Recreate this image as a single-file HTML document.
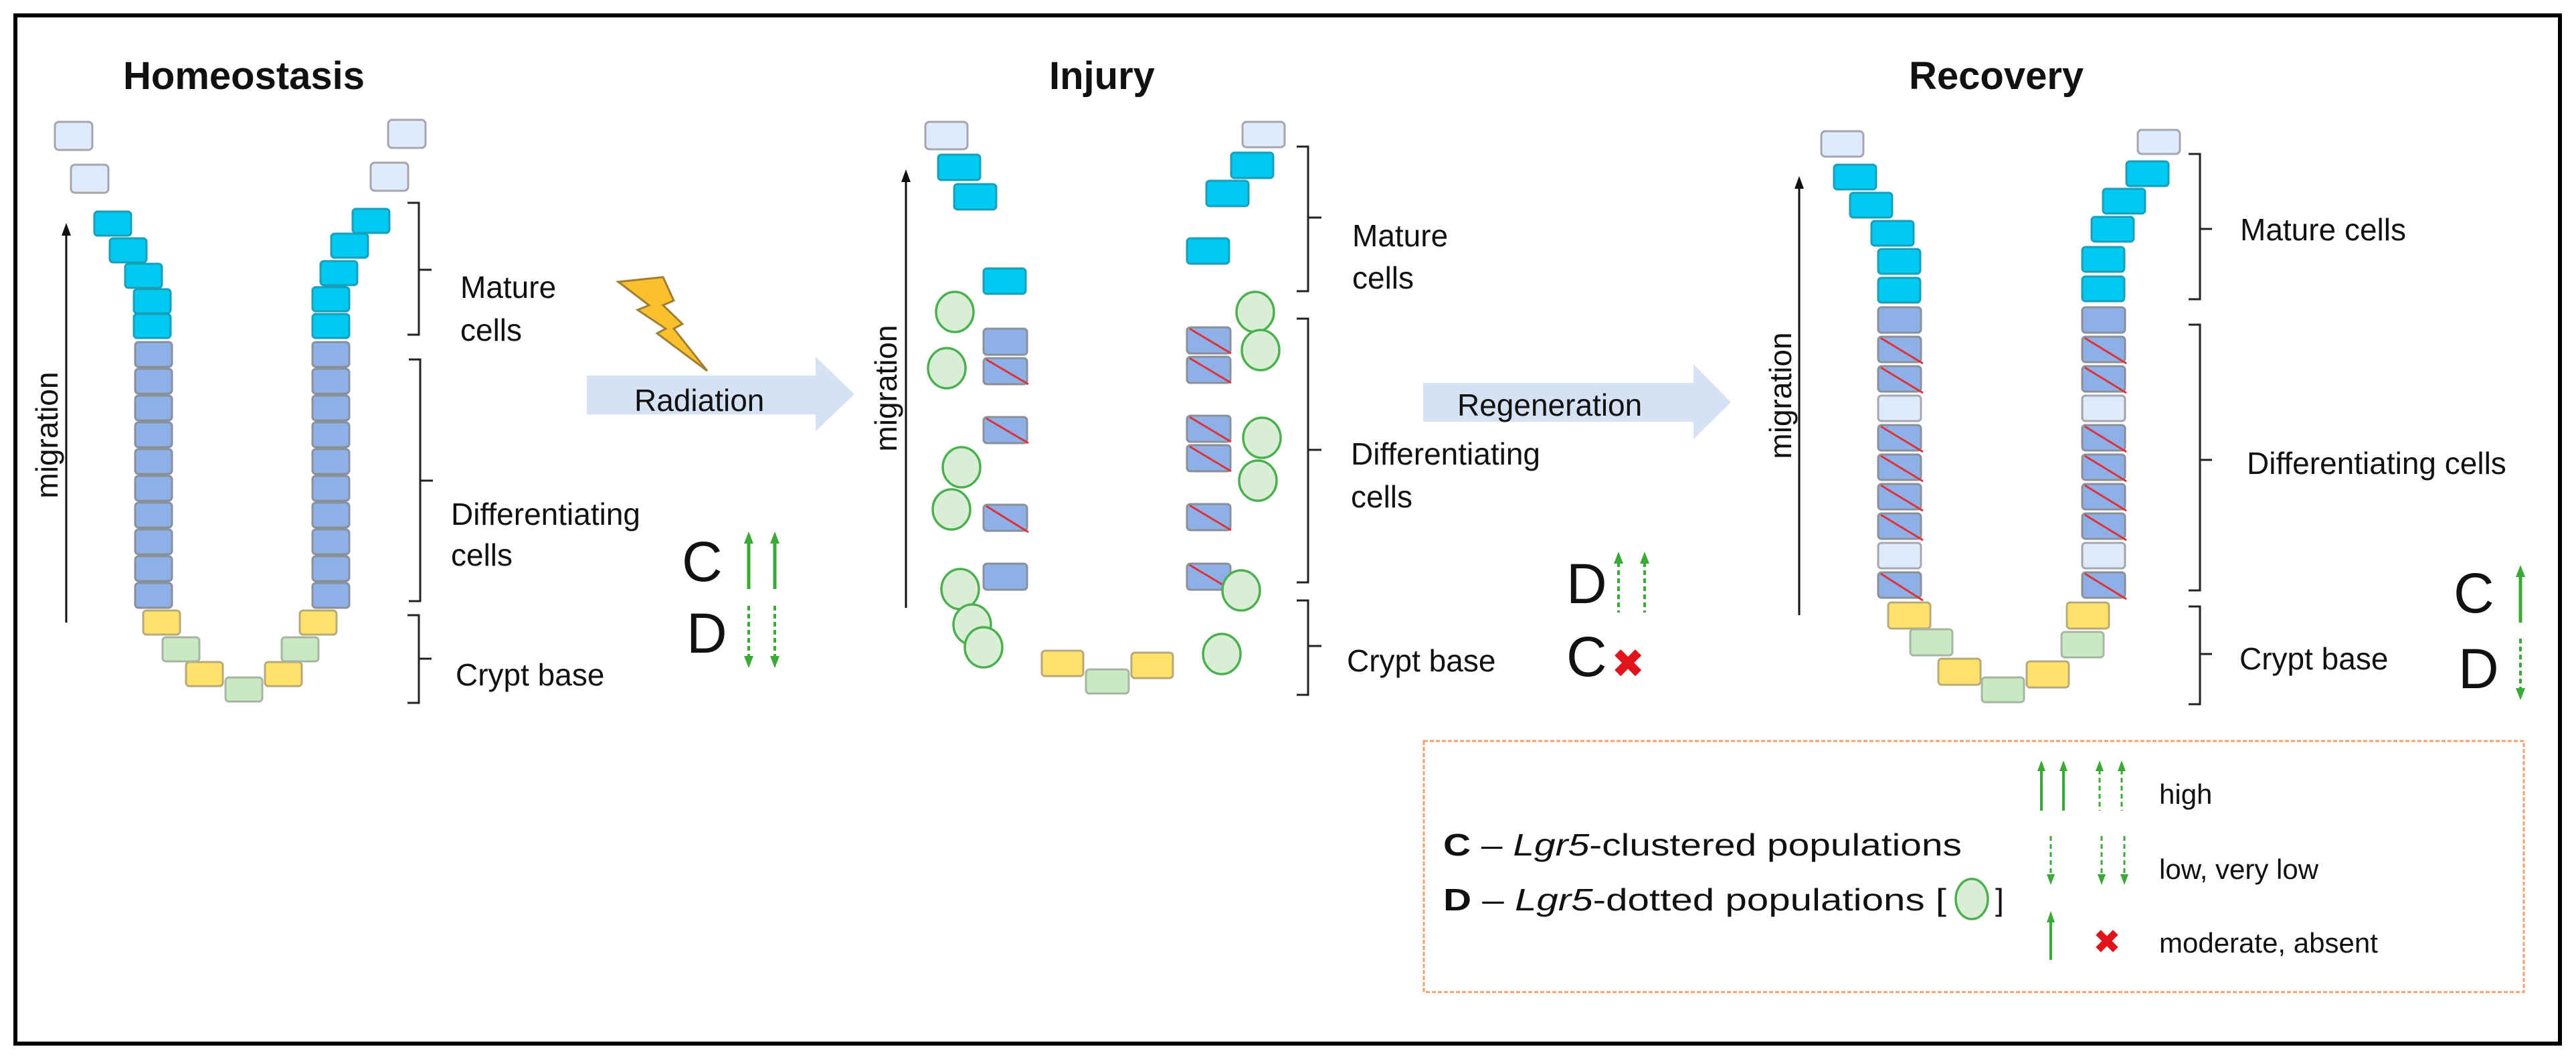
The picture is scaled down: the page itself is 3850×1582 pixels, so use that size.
<!DOCTYPE html>
<html><head><meta charset="utf-8"><style>
html,body{margin:0;padding:0;background:#fff;}
svg{display:block;}
text{font-family:"Liberation Sans",Arial,sans-serif;fill:#111;}
.t{font-weight:bold;font-size:58px;}
.l{font-size:46px;}
.cd{font-size:84px;}
.lt{fill:#dfeafa;stroke:#a3a7ad;stroke-width:3;}
.cy{fill:#00c9f2;stroke:#1b9fb8;stroke-width:3;}
.bl{fill:#8db0e6;stroke:#8a9099;stroke-width:3;}
.ye{fill:#ffe26b;stroke:#b8aa78;stroke-width:3;}
.gr{fill:#c9e9c3;stroke:#a7b5a4;stroke-width:3;}
.sl{stroke:#e0303a;stroke-width:3;}
.ci{fill:#d9efd5;stroke:#4caf50;stroke-width:3.5;}
.br{fill:none;stroke:#222;stroke-width:3;}
.ga{stroke:#3aa935;stroke-width:5;fill:none;}
.gd{stroke:#3aa935;stroke-width:4;fill:none;stroke-dasharray:7 5;}
.gh{fill:#3aa935;}
</style></head><body>
<svg width="3850" height="1582" viewBox="0 0 3850 1582" xmlns="http://www.w3.org/2000/svg">
<rect x="0" y="0" width="3850" height="1582" fill="#fff"/>
<rect x="23" y="23" width="3803" height="1536" fill="none" stroke="#000" stroke-width="6"/>

<!-- ===== HOMEOSTASIS ===== -->
<text class="t" x="184" y="133">Homeostasis</text>
<rect class="lt" x="82" y="182" width="56" height="42" rx="6"/>
<rect class="lt" x="106" y="246" width="56" height="42" rx="6"/>
<rect class="lt" x="580" y="179" width="56" height="42" rx="6"/>
<rect class="lt" x="554" y="243" width="56" height="42" rx="6"/>
<g class="cy">
<rect x="141" y="316" width="55" height="36" rx="5"/><rect x="164" y="356" width="55" height="36" rx="5"/>
<rect x="187" y="394" width="55" height="36" rx="5"/><rect x="200" y="432" width="55" height="36" rx="5"/>
<rect x="200" y="469" width="55" height="36" rx="5"/>
<rect x="527" y="312" width="55" height="36" rx="5"/><rect x="495" y="349" width="55" height="36" rx="5"/>
<rect x="479" y="390" width="55" height="36" rx="5"/><rect x="467" y="429" width="55" height="36" rx="5"/>
<rect x="467" y="469" width="55" height="36" rx="5"/>
</g>
<g class="bl">
<rect x="202" y="511" width="55" height="37" rx="5"/><rect x="202" y="551" width="55" height="37" rx="5"/>
<rect x="202" y="591" width="55" height="37" rx="5"/><rect x="202" y="631" width="55" height="37" rx="5"/>
<rect x="202" y="671" width="55" height="37" rx="5"/><rect x="202" y="711" width="55" height="37" rx="5"/>
<rect x="202" y="751" width="55" height="37" rx="5"/><rect x="202" y="791" width="55" height="37" rx="5"/>
<rect x="202" y="831" width="55" height="37" rx="5"/><rect x="202" y="871" width="55" height="37" rx="5"/>
<rect x="467" y="511" width="55" height="37" rx="5"/><rect x="467" y="551" width="55" height="37" rx="5"/>
<rect x="467" y="591" width="55" height="37" rx="5"/><rect x="467" y="631" width="55" height="37" rx="5"/>
<rect x="467" y="671" width="55" height="37" rx="5"/><rect x="467" y="711" width="55" height="37" rx="5"/>
<rect x="467" y="751" width="55" height="37" rx="5"/><rect x="467" y="791" width="55" height="37" rx="5"/>
<rect x="467" y="831" width="55" height="37" rx="5"/><rect x="467" y="871" width="55" height="37" rx="5"/>
</g>
<g class="ye">
<rect x="214" y="912" width="55" height="36" rx="5"/><rect x="278" y="989" width="55" height="36" rx="5"/>
<rect x="396" y="989" width="55" height="36" rx="5"/><rect x="448" y="912" width="55" height="36" rx="5"/>
</g>
<g class="gr">
<rect x="243" y="952" width="55" height="36" rx="5"/><rect x="337" y="1012" width="55" height="36" rx="5"/>
<rect x="421" y="952" width="55" height="36" rx="5"/>
</g>
<line x1="99" y1="930" x2="99" y2="350" stroke="#111" stroke-width="3"/>
<polygon points="92,352 99,333 106,352" fill="#111"/>
<text class="l" x="0" y="0" text-anchor="middle" transform="translate(86,650) rotate(-90)">migration</text>
<path class="br" d="M609,303 H626 V500 H609 M626,403 H645"/>
<path class="br" d="M611,537 H628 V898 H611 M628,718 H647"/>
<path class="br" d="M609,919 H626 V1050 H609 M626,984 H645"/>
<text class="l" x="688" y="445">Mature</text>
<text class="l" x="688" y="509">cells</text>
<text class="l" x="674" y="784">Differentiating</text>
<text class="l" x="674" y="845">cells</text>
<text class="l" x="681" y="1024">Crypt base</text>
<text class="cd" x="1019" y="868">C</text>
<text class="cd" x="1026" y="975">D</text>
<line class="ga" x1="1119" y1="810" x2="1119" y2="880"/><polygon class="gh" points="1112,812 1119,794 1126,812"/>
<line class="ga" x1="1158" y1="810" x2="1158" y2="880"/><polygon class="gh" points="1151,812 1158,794 1165,812"/>
<line class="gd" x1="1119" y1="905" x2="1119" y2="982"/><polygon class="gh" points="1112,980 1119,998 1126,980"/>
<line class="gd" x1="1158" y1="905" x2="1158" y2="982"/><polygon class="gh" points="1151,980 1158,998 1165,980"/>
<polygon points="924,421 991,414 1007,449 991,456 1020,484 1007,491 1057,554 982,498 995,491 953,463 970,456" fill="#fbc02d" stroke="#a07f30" stroke-width="3"/>
<polygon points="877,561 1219,561 1219,533 1277,589 1219,644 1219,619 877,619" fill="#d5e2f3"/>
<text class="l" x="948" y="614">Radiation</text>

<!-- ===== INJURY ===== -->
<text class="t" x="1568" y="133">Injury</text>
<rect class="lt" x="1383" y="182" width="63" height="41" rx="6"/>
<rect class="lt" x="1857" y="182" width="63" height="38" rx="6"/>
<g class="cy">
<rect x="1402" y="231" width="63" height="38" rx="5"/><rect x="1426" y="275" width="63" height="38" rx="5"/>
<rect x="1470" y="401" width="63" height="38" rx="5"/>
<rect x="1840" y="228" width="63" height="38" rx="5"/><rect x="1803" y="270" width="63" height="38" rx="5"/>
<rect x="1774" y="356" width="63" height="38" rx="5"/>
</g>
<g class="bl">
<rect x="1470" y="491" width="65" height="39" rx="5"/><rect x="1470" y="535" width="65" height="39" rx="5"/>
<rect x="1470" y="623" width="65" height="39" rx="5"/><rect x="1470" y="754" width="65" height="39" rx="5"/>
<rect x="1470" y="842" width="65" height="39" rx="5"/>
<rect x="1774" y="489" width="65" height="39" rx="5"/><rect x="1774" y="533" width="65" height="39" rx="5"/>
<rect x="1774" y="621" width="65" height="39" rx="5"/><rect x="1774" y="665" width="65" height="39" rx="5"/>
<rect x="1774" y="753" width="65" height="39" rx="5"/><rect x="1774" y="842" width="65" height="39" rx="5"/>
</g>
<g class="sl">
<line x1="1474" y1="537" x2="1537" y2="574"/><line x1="1474" y1="625" x2="1537" y2="662"/>
<line x1="1474" y1="756" x2="1537" y2="795"/>
<line x1="1778" y1="491" x2="1840" y2="528"/><line x1="1778" y1="535" x2="1840" y2="572"/>
<line x1="1778" y1="623" x2="1840" y2="660"/><line x1="1778" y1="667" x2="1840" y2="704"/>
<line x1="1778" y1="755" x2="1840" y2="792"/><line x1="1778" y1="844" x2="1840" y2="881"/>
</g>
<g class="ci">
<ellipse cx="1427" cy="466" rx="28" ry="30"/><ellipse cx="1415" cy="550" rx="28" ry="30"/>
<ellipse cx="1437" cy="698" rx="28" ry="30"/><ellipse cx="1422" cy="761" rx="28" ry="30"/>
<ellipse cx="1435" cy="880" rx="28" ry="30"/><ellipse cx="1453" cy="933" rx="28" ry="30"/>
<ellipse cx="1470" cy="967" rx="28" ry="30"/>
<ellipse cx="1876" cy="466" rx="28" ry="30"/><ellipse cx="1884" cy="523" rx="28" ry="30"/>
<ellipse cx="1886" cy="654" rx="28" ry="30"/><ellipse cx="1880" cy="718" rx="28" ry="30"/>
<ellipse cx="1855" cy="882" rx="28" ry="30"/><ellipse cx="1826" cy="977" rx="28" ry="30"/>
</g>
<rect class="ye" x="1557" y="972" width="62" height="38" rx="5"/>
<rect class="ye" x="1691" y="975" width="62" height="38" rx="5"/>
<rect class="gr" x="1623" y="1000" width="64" height="36" rx="5"/>
<line x1="1354" y1="908" x2="1354" y2="270" stroke="#111" stroke-width="3"/>
<polygon points="1347,272 1354,253 1361,272" fill="#111"/>
<text class="l" x="0" y="0" text-anchor="middle" transform="translate(1340,580) rotate(-90)">migration</text>
<path class="br" d="M1938,219 H1955 V435 H1938 M1955,325 H1975"/>
<path class="br" d="M1938,476 H1955 V870 H1938 M1955,672 H1975"/>
<path class="br" d="M1938,897 H1955 V1038 H1938 M1955,965 H1975"/>
<text class="l" x="2021" y="368">Mature</text>
<text class="l" x="2021" y="431">cells</text>
<text class="l" x="2019" y="694">Differentiating</text>
<text class="l" x="2019" y="758">cells</text>
<text class="l" x="2013" y="1003">Crypt base</text>
<text class="cd" x="2341" y="901">D</text>
<text class="cd" x="2341" y="1010">C</text>
<line class="gd" x1="2419" y1="840" x2="2419" y2="915"/><polygon class="gh" points="2412,842 2419,824 2426,842"/>
<line class="gd" x1="2458" y1="840" x2="2458" y2="915"/><polygon class="gh" points="2451,842 2458,824 2465,842"/>
<text x="2408" y="1012" style="font-family:'DejaVu Sans',sans-serif;font-size:60px;fill:#e3131b;font-weight:bold">✖</text>
<polygon points="2127,572 2531,572 2531,544 2587,601 2531,656 2531,630 2127,630" fill="#d5e2f3"/>
<text class="l" x="2178" y="621">Regeneration</text>

<!-- ===== RECOVERY ===== -->
<text class="t" x="2853" y="133">Recovery</text>
<rect class="lt" x="2722" y="196" width="63" height="38" rx="6"/>
<rect class="lt" x="3195" y="194" width="63" height="36" rx="6"/>
<g class="cy">
<rect x="2741" y="246" width="63" height="37" rx="5"/><rect x="2765" y="288" width="63" height="37" rx="5"/>
<rect x="2797" y="330" width="63" height="37" rx="5"/><rect x="2807" y="372" width="63" height="37" rx="5"/>
<rect x="2807" y="415" width="63" height="37" rx="5"/>
<rect x="3178" y="241" width="63" height="37" rx="5"/><rect x="3143" y="282" width="63" height="37" rx="5"/>
<rect x="3126" y="324" width="63" height="37" rx="5"/><rect x="3112" y="369" width="63" height="37" rx="5"/>
<rect x="3112" y="413" width="63" height="37" rx="5"/>
</g>
<g class="bl">
<rect x="2807" y="459" width="64" height="38" rx="5"/><rect x="2807" y="503" width="64" height="38" rx="5"/>
<rect x="2807" y="547" width="64" height="38" rx="5"/>
<rect x="2807" y="635" width="64" height="38" rx="5"/><rect x="2807" y="679" width="64" height="38" rx="5"/>
<rect x="2807" y="723" width="64" height="38" rx="5"/><rect x="2807" y="767" width="64" height="38" rx="5"/>
<rect x="2807" y="855" width="64" height="38" rx="5"/>
<rect x="3112" y="459" width="64" height="38" rx="5"/><rect x="3112" y="503" width="64" height="38" rx="5"/>
<rect x="3112" y="547" width="64" height="38" rx="5"/>
<rect x="3112" y="635" width="64" height="38" rx="5"/><rect x="3112" y="679" width="64" height="38" rx="5"/>
<rect x="3112" y="723" width="64" height="38" rx="5"/><rect x="3112" y="767" width="64" height="38" rx="5"/>
<rect x="3112" y="855" width="64" height="38" rx="5"/>
</g>
<rect class="lt" x="2807" y="591" width="64" height="38" rx="5"/>
<rect class="lt" x="2807" y="811" width="64" height="38" rx="5"/>
<rect class="lt" x="3112" y="591" width="64" height="38" rx="5"/>
<rect class="lt" x="3112" y="811" width="64" height="38" rx="5"/>
<g class="sl">
<line x1="2811" y1="505" x2="2874" y2="543"/><line x1="2811" y1="549" x2="2874" y2="587"/>
<line x1="2811" y1="637" x2="2874" y2="675"/><line x1="2811" y1="681" x2="2874" y2="719"/>
<line x1="2811" y1="725" x2="2874" y2="763"/><line x1="2811" y1="769" x2="2874" y2="807"/>
<line x1="2811" y1="857" x2="2874" y2="897"/>
<line x1="3116" y1="505" x2="3178" y2="543"/><line x1="3116" y1="549" x2="3178" y2="587"/>
<line x1="3116" y1="637" x2="3178" y2="675"/><line x1="3116" y1="681" x2="3178" y2="719"/>
<line x1="3116" y1="725" x2="3178" y2="763"/><line x1="3116" y1="769" x2="3178" y2="807"/>
<line x1="3116" y1="857" x2="3178" y2="895"/>
</g>
<g class="ye">
<rect x="2822" y="900" width="63" height="39" rx="5"/><rect x="2897" y="984" width="63" height="39" rx="5"/>
<rect x="3029" y="988" width="63" height="39" rx="5"/><rect x="3089" y="900" width="63" height="39" rx="5"/>
</g>
<g class="gr">
<rect x="2855" y="940" width="63" height="39" rx="5"/><rect x="2962" y="1012" width="63" height="37" rx="5"/>
<rect x="3081" y="944" width="63" height="38" rx="5"/>
</g>
<line x1="2689" y1="919" x2="2689" y2="280" stroke="#111" stroke-width="3"/>
<polygon points="2682,282 2689,263 2696,282" fill="#111"/>
<text class="l" x="0" y="0" text-anchor="middle" transform="translate(2677,591) rotate(-90)">migration</text>
<path class="br" d="M3271,230 H3288 V447 H3271 M3288,342 H3306"/>
<path class="br" d="M3271,485 H3288 V882 H3271 M3288,687 H3306"/>
<path class="br" d="M3271,906 H3288 V1052 H3271 M3288,977 H3306"/>
<text class="l" x="3348" y="359">Mature cells</text>
<text class="l" x="3358" y="708">Differentiating cells</text>
<text class="l" x="3347" y="1000">Crypt base</text>
<text class="cd" x="3667" y="915">C</text>
<text class="cd" x="3674" y="1028">D</text>
<line class="ga" x1="3767" y1="860" x2="3767" y2="930"/><polygon class="gh" points="3760,862 3767,844 3774,862"/>
<line class="gd" x1="3767" y1="954" x2="3767" y2="1030"/><polygon class="gh" points="3760,1028 3767,1046 3774,1028"/>
<rect x="3826" y="600" width="24" height="150" fill="#fff"/>
<rect x="3823" y="23" width="6" height="1536" fill="#000"/>

<!-- ===== LEGEND ===== -->
<rect x="2128" y="1107" width="1644" height="375" fill="none" stroke="#f4a071" stroke-width="3" stroke-dasharray="6 3"/>
<text x="2157" y="1278" style="font-size:46px" textLength="775" lengthAdjust="spacingAndGlyphs"><tspan font-weight="bold">C</tspan> – <tspan font-style="italic">Lgr5</tspan>-clustered populations</text>
<text x="2157" y="1360" style="font-size:46px" textLength="752" lengthAdjust="spacingAndGlyphs"><tspan font-weight="bold">D</tspan> – <tspan font-style="italic">Lgr5</tspan>-dotted populations [</text>
<ellipse class="ci" cx="2947" cy="1343" rx="24" ry="30"/>
<text x="2982" y="1360" style="font-size:46px">]</text>
<line class="ga" x1="3051" y1="1150" x2="3051" y2="1211" style="stroke-width:4"/><polygon class="gh" points="3045,1152 3051,1136 3057,1152"/>
<line class="ga" x1="3084" y1="1150" x2="3084" y2="1211" style="stroke-width:4"/><polygon class="gh" points="3078,1152 3084,1136 3090,1152"/>
<line class="gd" x1="3138" y1="1150" x2="3138" y2="1211" style="stroke-width:3"/><polygon class="gh" points="3132,1152 3138,1136 3144,1152"/>
<line class="gd" x1="3171" y1="1150" x2="3171" y2="1211" style="stroke-width:3"/><polygon class="gh" points="3165,1152 3171,1136 3177,1152"/>
<text x="3227" y="1201" style="font-size:42px">high</text>
<line class="gd" x1="3065" y1="1249" x2="3065" y2="1308" style="stroke-width:3"/><polygon class="gh" points="3059,1306 3065,1322 3071,1306"/>
<line class="gd" x1="3141" y1="1249" x2="3141" y2="1308" style="stroke-width:3"/><polygon class="gh" points="3135,1306 3141,1322 3147,1306"/>
<line class="gd" x1="3175" y1="1249" x2="3175" y2="1308" style="stroke-width:3"/><polygon class="gh" points="3169,1306 3175,1322 3181,1306"/>
<text x="3227" y="1313" style="font-size:42px">low, very low</text>
<line class="ga" x1="3065" y1="1376" x2="3065" y2="1434" style="stroke-width:4"/><polygon class="gh" points="3059,1378 3065,1361 3071,1378"/>
<text x="3128" y="1424" style="font-family:'DejaVu Sans',sans-serif;font-size:50px;fill:#e3131b;font-weight:bold">✖</text>
<text x="3227" y="1423" style="font-size:42px">moderate, absent</text>
</svg>
</body></html>
